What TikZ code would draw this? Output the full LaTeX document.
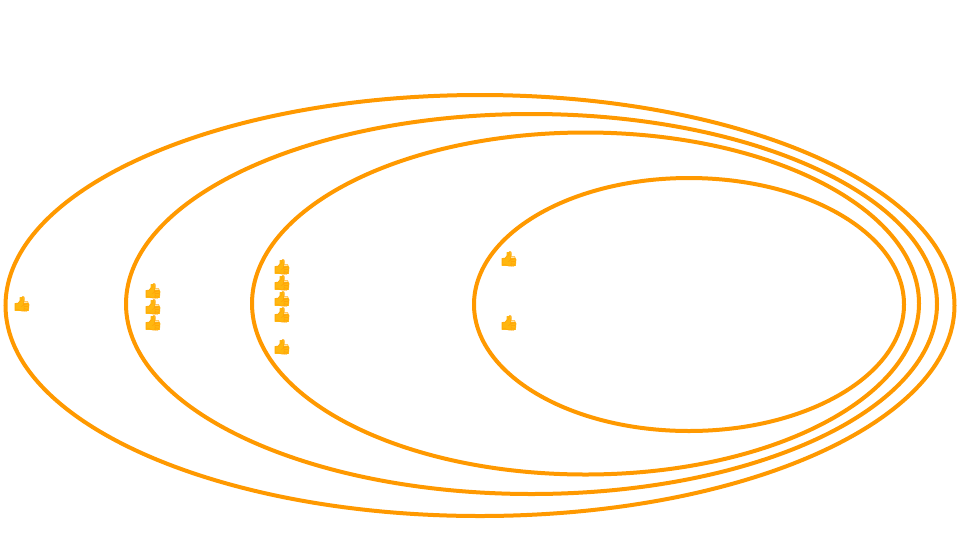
\documentclass[tikz,border=0pt]{standalone}
\usepackage{fontspec}
\newfontfamily\emojifont{Noto Emoji}
\definecolor{ring}{HTML}{FF9900}
\definecolor{thumb}{HTML}{FFB70F}
\definecolor{thumbedge}{HTML}{FFA50A}
\tikzset{
  x=0.75pt,y=-0.75pt,
  ringline/.style={draw=ring,line width=3pt},
  thumbup/.style={inner sep=0pt,text=thumbedge,font=\emojifont\fontsize{11.5pt}{12pt}\selectfont},
  thumbfill/.style={fill=thumb,draw=thumb,line width=0.5pt,line join=round}
}
\newcommand{\thumbshape}[2]{%
  \fill[thumbfill] (#1-7,#2-1.5) -- (#1-3.5,#2-2) -- (#1-2,#2-4.5) -- (#1-2,#2-7.5) -- (#1+1.5,#2-7.5) -- (#1+2,#2-4.5) -- (#1+1,#2-2) -- (#1+6,#2-2) -- (#1+7,#2-0.5) -- (#1+6.5,#2+5.5) -- (#1-7,#2+5.5) -- cycle;}
\begin{document}
\begin{tikzpicture}
\useasboundingbox (0,0) rectangle (960,540);
\draw[ringline] (480,305.5) ellipse [x radius=474.5,y radius=210.5];
\draw[ringline] (531.5,304) ellipse [x radius=405.5,y radius=190];
\draw[ringline] (585.5,303.5) ellipse [x radius=333.5,y radius=171];
\draw[ringline] (689,304.5) ellipse [x radius=215,y radius=126.5];
\foreach \n/\px/\py in {a/22/305,b/153/292,c/153/308,d/153/324,e/282/268,f/282/284,g/282/300,h/282/316,i/282/348,j/509/260,k/509/324}{
  \thumbshape{\px}{\py}
  \node[thumbup] (\n) at (\px,\py-0.5) {👍};
}
\end{tikzpicture}
\end{document}
